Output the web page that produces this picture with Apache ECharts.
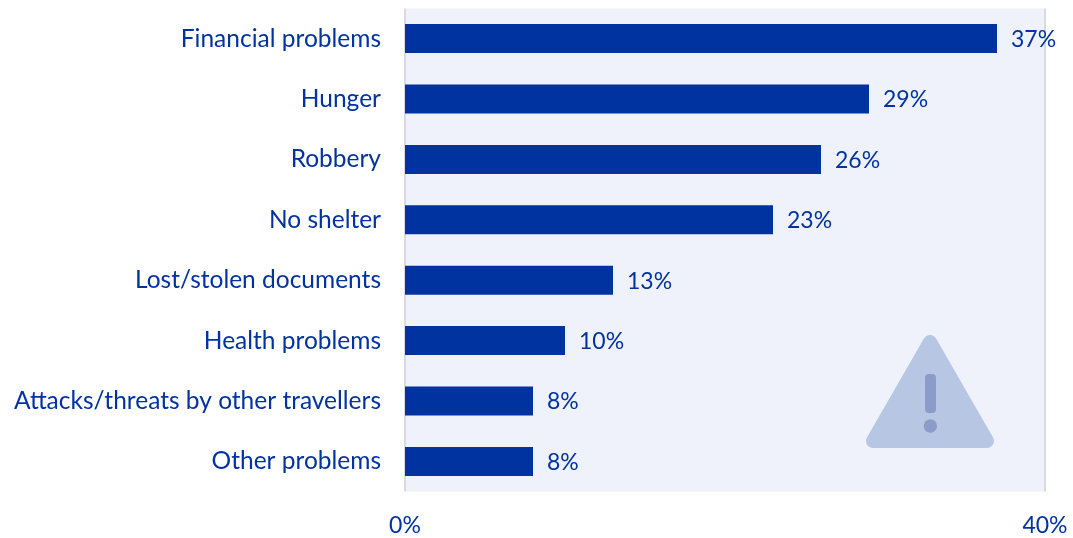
<!DOCTYPE html>
<html>
<head>
<meta charset="utf-8">
<style>html,body{margin:0;padding:0;background:#fff}#c{width:1073px;height:538px}</style>
<script src="https://cdn.jsdelivr.net/npm/echarts@6/dist/echarts.min.js"></script>
</head>
<body>
<div id="c"></div>
<script>
// Problems reported by travellers, largest first
const categories = ['Financial problems','Hunger','Robbery','No shelter','Lost/stolen documents','Health problems','Attacks/threats by other travellers','Other problems'];
const shares = [37,29,26,23,13,10,8,8];
const axisTicks = [0,40];

const ink = '#0033a0';
const chart = echarts.init(document.getElementById('c'), null, {renderer:'canvas'});
chart.setOption({
  animation:false,
  textStyle:{fontFamily:'Lato'},
  grid:{left:405,right:28,top:8.4,bottom:46.4,show:true,backgroundColor:'#eff2fa',borderWidth:0},
  xAxis:{type:'value',min:axisTicks[0],max:axisTicks[1],interval:40,
    axisLine:{show:false},axisTick:{show:false},
    splitLine:{show:true,lineStyle:{color:'#d9dbe0',width:2}},
    axisLabel:{color:ink,fontSize:23,margin:22,formatter:'{value}%',hideOverlap:false}},
  yAxis:{type:'category',inverse:true,data:categories,
    axisLine:{show:false},axisTick:{show:false},
    axisLabel:{color:ink,fontSize:24.5,margin:24,padding:[2,0,0,0]}},
  series:[{type:'bar',data:shares,barWidth:29,
    itemStyle:{color:ink},
    label:{show:true,position:'right',distance:14,color:ink,fontSize:23,offset:[0,1],formatter:'{c}%'}}],
  // Warning sign: a triangle whose thick round-joined stroke softens the corners
  graphic:[
    {type:'polygon',silent:true,
     shape:{points:[[930,342],[987,441],[873,441]]},
     style:{fill:'#b7c6e3',stroke:'#b7c6e3',lineWidth:14,lineJoin:'round'}},
    {type:'rect',silent:true,shape:{x:925,y:374,width:11,height:39,r:4},style:{fill:'#8a9cc7'}},
    {type:'circle',silent:true,shape:{cx:930.3,cy:426,r:6.7},style:{fill:'#8a9cc7'}}
  ]
});
</script>
</body>
</html>
